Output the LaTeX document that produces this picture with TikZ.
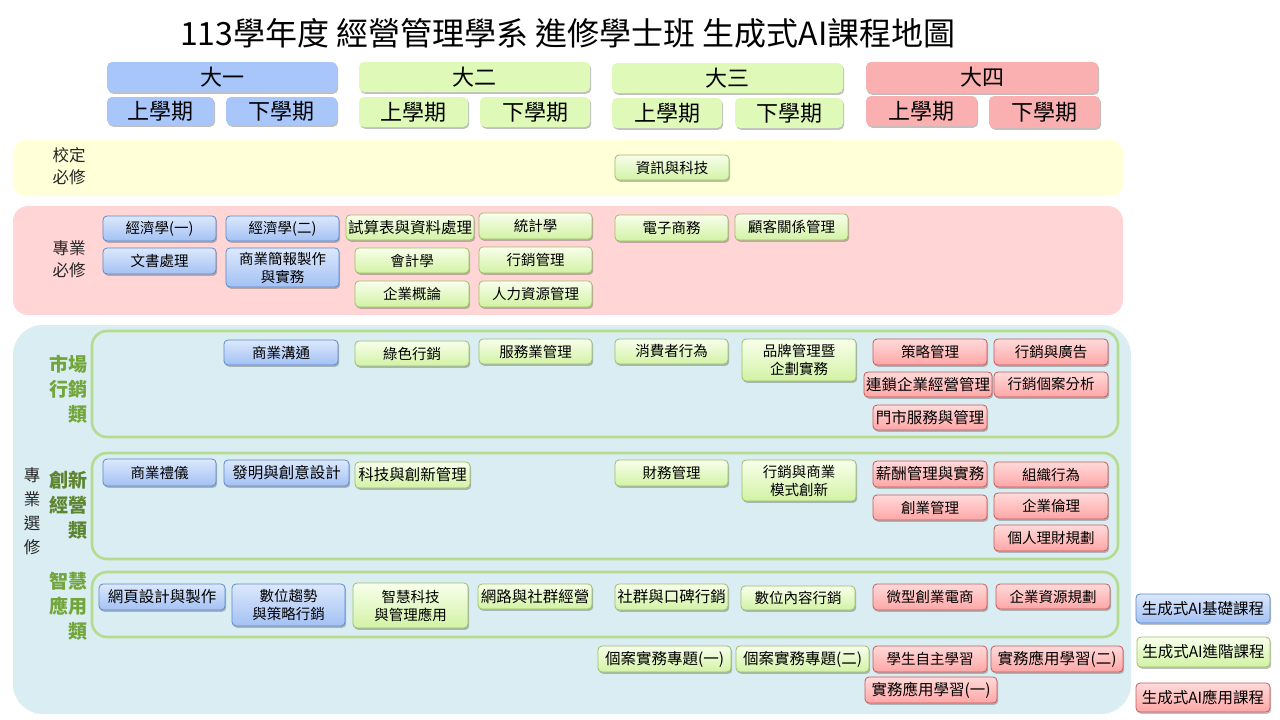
\documentclass[tikz,border=0pt]{standalone}
\usepackage{fontspec}
\setmainfont{Noto Sans CJK TC}
\usetikzlibrary{shadows}
\definecolor{hblue}{HTML}{A8C6FA}
\definecolor{hgreen}{HTML}{DFFAB8}
\definecolor{hred}{HTML}{FAB0B0}
\definecolor{bandY}{HTML}{FFFFD8}
\definecolor{bandP}{HTML}{FFD5D5}
\definecolor{bandB}{HTML}{D9EDF2}
\definecolor{frameG}{HTML}{B5DC8E}
\definecolor{cbT}{HTML}{DCE8FC}
\definecolor{cbB}{HTML}{A3C1F4}
\definecolor{cbD}{HTML}{5A89C8}
\definecolor{cgT}{HTML}{F8FFEC}
\definecolor{cgB}{HTML}{D2F2A4}
\definecolor{cgD}{HTML}{9CC064}
\definecolor{crT}{HTML}{FFDADA}
\definecolor{crB}{HTML}{FFA6A6}
\definecolor{crD}{HTML}{C95A5A}
\definecolor{labG}{HTML}{72A53A}
\definecolor{labG2}{HTML}{5C8530}
\begin{document}
\begin{tikzpicture}[x=1pt,y=-1pt,
  shd/.style={drop shadow={shadow xshift=1.2pt,shadow yshift=-1.8pt,opacity=.35,fill=black!70}},
  hdr/.style={shd,rounded corners=5pt,inner sep=0pt,font=\fontsize{22}{24}\selectfont},
  hb/.style={hdr,fill=hblue},
  hg/.style={hdr,fill=hgreen},
  hr/.style={hdr,fill=hred},
  crs/.style={shd,rounded corners=4pt,inner sep=0pt,line width=0.8pt,align=center,font=\fontsize{14.5}{18}\selectfont},
  wide/.style={font=\fontsize{15.5}{18}\selectfont},
  cb/.style={crs,draw=cbD,top color=cbT,bottom color=cbB},
  cg/.style={crs,draw=cgD,top color=cgT,bottom color=cgB},
  cr/.style={crs,draw=crD,top color=crT,bottom color=crB},
  lab/.style={align=center,font=\fontsize{16.5}{22}\selectfont,text=black!85},
  cat/.style={align=right,font=\fontsize{19}{25}\selectfont\bfseries,text=labG},
  frm/.style={draw=frameG,line width=2.6pt,rounded corners=15pt}
]
\useasboundingbox (0,0) rectangle (1280,720);
\fill[white] (0,0) rectangle (1280,720);

% title
\node[font=\fontsize{32}{34}\selectfont] (title) at (568,33) {113學年度 經營管理學系 進修學士班 生成式AI課程地圖};

% header
\node[hb,minimum width=230pt,minimum height=30pt] (y1) at (222,77) {大一};
\node[hb,minimum width=107pt,minimum height=28pt] (y1a) at (160.5,111) {上學期};
\node[hb,minimum width=111pt,minimum height=28pt] (y1b) at (281.5,111) {下學期};
\node[hg,minimum width=231pt,minimum height=30pt] (y2) at (474.5,77) {大二};
\node[hg,minimum width=109pt,minimum height=30pt] (y2a) at (413.5,112) {上學期};
\node[hg,minimum width=110pt,minimum height=30pt] (y2b) at (535,112) {下學期};
\node[hg,minimum width=231pt,minimum height=30pt] (y3) at (727.5,78) {大三};
\node[hg,minimum width=110pt,minimum height=30pt] (y3a) at (667,113) {上學期};
\node[hg,minimum width=108pt,minimum height=30pt] (y3b) at (789,113) {下學期};
\node[hr,minimum width=232pt,minimum height=31pt] (y4) at (982,77.5) {大四};
\node[hr,minimum width=111pt,minimum height=30pt] (y4a) at (921.5,111) {上學期};
\node[hr,minimum width=111pt,minimum height=32pt] (y4b) at (1044.5,112) {下學期};

% bands
\fill[bandY,rounded corners=12pt] (13,140) rectangle (1123,196);
\fill[bandP,rounded corners=15pt] (13,206) rectangle (1123,315);
\fill[bandB,rounded corners=30pt] (13,325) rectangle (1131,714);
\draw[frm] (92,331) rectangle (1118,437);
\draw[frm] (92,453) rectangle (1118,559);
\draw[frm] (92,572) rectangle (1118,637);

% row labels
\node[lab] (Lxd) at (69,166) {校定\\必修};
\node[lab] (Lzb) at (69,259) {專業\\必修};
\node[lab,font=\fontsize{16.5}{24}\selectfont] (Lzx) at (32,511) {專\\業\\選\\修};
\node[cat,anchor=east] (Lsc) at (91,389) {市場\\行銷\\類};
\node[cat,anchor=east,text=labG2] (Lcx) at (91,505) {創新\\經營\\類};
\node[cat,anchor=east] (Lzh) at (91,606) {智慧\\應用\\類};

% 校定必修
\node[cg,minimum width=114pt,minimum height=25pt] (c01) at (672,167.5) {資訊與科技};

% 專業必修
\node[cb,minimum width=113pt,minimum height=25pt] (c02) at (159.5,228.5) {經濟學(一)};
\node[cb,minimum width=113pt,minimum height=25pt] (c03) at (282.5,228.5) {經濟學(二)};
\node[cb,minimum width=113pt,minimum height=26pt] (c04) at (159.5,261) {文書處理};
\node[cb,minimum width=113pt,minimum height=39pt] (c05) at (282.5,267.5) {商業簡報製作\\與實務};
\node[cg,wide,minimum width=128pt,minimum height=25pt] (c06) at (410,227.5) {試算表與資料處理};
\node[cg,minimum width=113pt,minimum height=26pt] (c07) at (535.5,226) {統計學};
\node[cg,minimum width=114pt,minimum height=25pt] (c08) at (412,260.5) {會計學};
\node[cg,minimum width=113pt,minimum height=26pt] (c09) at (535.5,260) {行銷管理};
\node[cg,minimum width=114pt,minimum height=26pt] (c10) at (412,294) {企業概論};
\node[cg,minimum width=113pt,minimum height=26pt] (c11) at (535.5,294) {人力資源管理};
\node[cg,minimum width=113pt,minimum height=26pt] (c12) at (671.5,228) {電子商務};
\node[cg,minimum width=113pt,minimum height=26pt] (c13) at (791.5,227) {顧客關係管理};

% 市場行銷類
\node[cb,minimum width=114pt,minimum height=25pt] (m01) at (281,352.5) {商業溝通};
\node[cg,minimum width=114pt,minimum height=25pt] (m02) at (412,353.5) {綠色行銷};
\node[cg,minimum width=113pt,minimum height=25pt] (m03) at (535.5,351.5) {服務業管理};
\node[cg,minimum width=113pt,minimum height=25pt] (m04) at (671.5,351.5) {消費者行為};
\node[cg,minimum width=114pt,minimum height=42pt] (m05) at (799,360) {品牌管理暨\\企劃實務};
\node[cr,minimum width=114pt,minimum height=26pt] (m06) at (930,352) {策略管理};
\node[cr,minimum width=114pt,minimum height=26pt] (m07) at (1051,352) {行銷與廣告};
\node[cr,wide,minimum width=128pt,minimum height=25pt] (m08) at (928,384.5) {連鎖企業經營管理};
\node[cr,minimum width=114pt,minimum height=25pt] (m09) at (1051,384.5) {行銷個案分析};
\node[cr,wide,minimum width=114pt,minimum height=25pt] (m10) at (930,417.5) {門市服務與管理};

% 創新經營類
\node[cb,minimum width=113pt,minimum height=27pt] (i01) at (159.5,472.5) {商業禮儀};
\node[cb,wide,minimum width=125pt,minimum height=26pt] (i02) at (286.5,473) {發明與創意設計};
\node[cg,wide,minimum width=115pt,minimum height=26pt] (i03) at (412.5,475) {科技與創新管理};
\node[cg,minimum width=113pt,minimum height=26pt] (i04) at (671.5,473) {財務管理};
\node[cg,minimum width=114pt,minimum height=41pt] (i05) at (799,480.5) {行銷與商業\\模式創新};
\node[cr,wide,minimum width=114pt,minimum height=26pt] (i06) at (930,474) {薪酬管理與實務};
\node[cr,minimum width=114pt,minimum height=25pt] (i07) at (1051,474.5) {組織行為};
\node[cr,minimum width=114pt,minimum height=25pt] (i08) at (930,507.5) {創業管理};
\node[cr,minimum width=114pt,minimum height=26pt] (i09) at (1051,506) {企業倫理};
\node[cr,minimum width=114pt,minimum height=26pt] (i10) at (1051,538) {個人理財規劃};

% 智慧應用類
\node[cb,wide,minimum width=126pt,minimum height=26pt] (s01) at (162,597) {網頁設計與製作};
\node[cb,minimum width=113pt,minimum height=42pt] (s02) at (288.5,605) {數位趨勢\\與策略行銷};
\node[cg,minimum width=115pt,minimum height=45pt] (s03) at (410.5,605.5) {智慧科技\\與管理應用};
\node[cg,wide,minimum width=114pt,minimum height=25pt] (s04) at (535,596.5) {網路與社群經營};
\node[cg,wide,minimum width=113pt,minimum height=26pt] (s05) at (671.5,597) {社群與口碑行銷};
\node[cg,minimum width=114pt,minimum height=24pt] (s06) at (798,598) {數位內容行銷};
\node[cr,minimum width=114pt,minimum height=26pt] (s07) at (930,597) {微型創業電商};
\node[cr,minimum width=114pt,minimum height=25pt] (s08) at (1053,596.5) {企業資源規劃};

% bottom row
\node[cg,wide,minimum width=133pt,minimum height=26pt] (p01) at (664.5,659) {個案實務專題(一)};
\node[cg,wide,minimum width=133pt,minimum height=26pt] (p02) at (802.5,659) {個案實務專題(二)};
\node[cr,minimum width=114pt,minimum height=26pt] (p03) at (930,659) {學生自主學習};
\node[cr,wide,minimum width=132pt,minimum height=26pt] (p04) at (1057,659) {實務應用學習(二)};
\node[cr,wide,minimum width=132pt,minimum height=26pt] (p05) at (931,690) {實務應用學習(一)};

% legend
\node[cb,wide,minimum width=134pt,minimum height=29pt] (g1) at (1203,608.5) {生成式AI基礎課程};
\node[cg,wide,minimum width=133pt,minimum height=30pt] (g2) at (1203.5,652) {生成式AI進階課程};
\node[cr,wide,minimum width=134pt,minimum height=29pt] (g3) at (1203,697.5) {生成式AI應用課程};
\end{tikzpicture}
\end{document}
